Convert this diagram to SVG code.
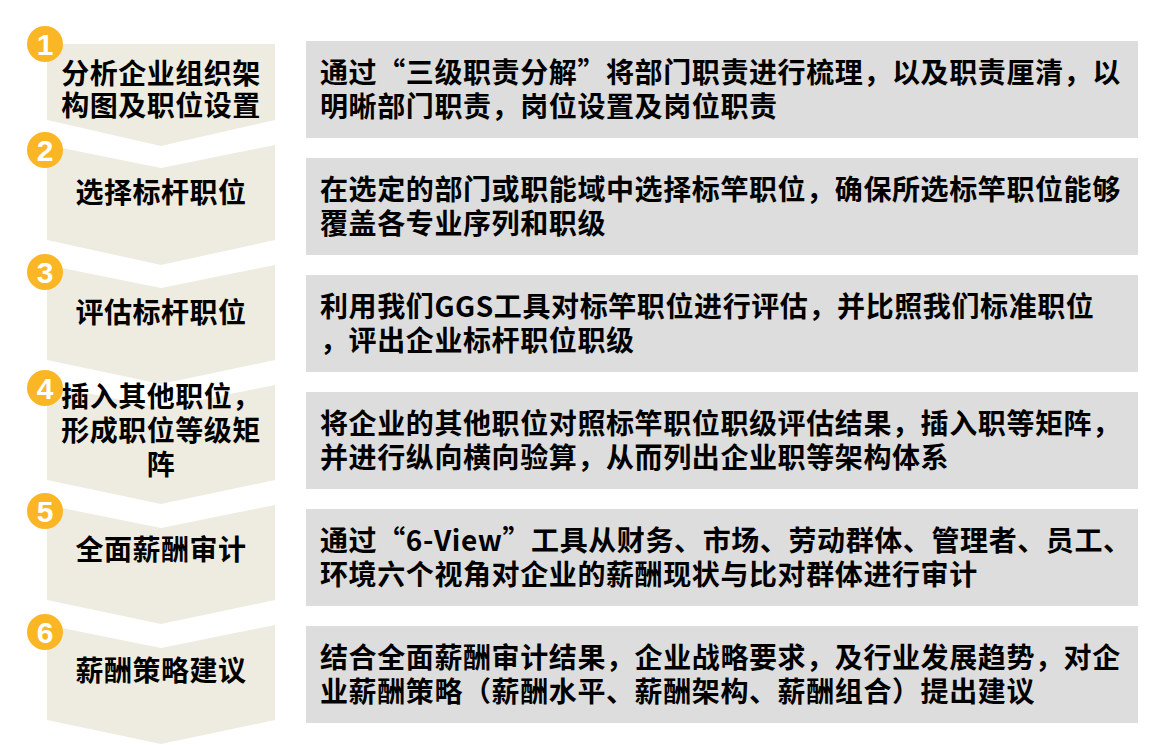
<svg xmlns="http://www.w3.org/2000/svg" width="1159" height="745" viewBox="0 0 1159 745">
<style>
.chev{fill:#EEECE1;}
.box{fill:#DDDDDD;}
.circ{fill:#FBB626;}
.num{font-family:"Liberation Sans",Arial,sans-serif;font-weight:bold;font-size:30px;fill:#FFFFFF;text-anchor:middle;}
.lt{font-family:"Noto Sans CJK SC","Noto Sans",sans-serif;font-weight:bold;font-size:28px;fill:#000000;text-anchor:middle;letter-spacing:0.5px;}
.rt{font-family:"Noto Sans CJK SC","Noto Sans",sans-serif;font-weight:bold;font-size:28px;fill:#000000;letter-spacing:0.6px;}
</style>
<rect width="1159" height="745" fill="#FFFFFF"/>
<g id="connectors"></g>
<g id="step1">
<polygon class="chev" points="47,44 275,44 275,120 161,146 47,120"/>
<text class="lt" x="161" y="84">分析企业组织架</text>
<text class="lt" x="161" y="116">构图及职位设置</text>
<circle class="circ" cx="45" cy="44" r="18"/>
<text class="num" x="45" y="55">1</text>
</g>
<g id="step2">
<polygon class="chev" points="47,145 161,168 275,145 275,240 161,265 47,240"/>
<text class="lt" x="161" y="203">选择标杆职位</text>
<circle class="circ" cx="45" cy="150" r="18"/>
<text class="num" x="45" y="161">2</text>
</g>
<g id="step3">
<polygon class="chev" points="47,265 161,288 275,265 275,360 161,384 47,360"/>
<text class="lt" x="161" y="323">评估标杆职位</text>
<circle class="circ" cx="45" cy="272" r="18"/>
<text class="num" x="45" y="283">3</text>
</g>
<g id="step4">
<polygon class="chev" points="47,385 161,408 275,385 275,480 161,504 47,480"/>
<text class="lt" x="161" y="407">插入其他职位，</text>
<text class="lt" x="161" y="441">形成职位等级矩</text>
<text class="lt" x="161" y="475">阵</text>
<circle class="circ" cx="45" cy="388" r="18"/>
<text class="num" x="45" y="399">4</text>
</g>
<g id="step5">
<polygon class="chev" points="47,505 161,528 275,505 275,600 161,624 47,600"/>
<text class="lt" x="161" y="560">全面薪酬审计</text>
<circle class="circ" cx="45" cy="511" r="18"/>
<text class="num" x="45" y="522">5</text>
</g>
<g id="step6">
<polygon class="chev" points="47,625 161,648 275,625 275,720 161,744 47,720"/>
<text class="lt" x="161" y="681">薪酬策略建议</text>
<circle class="circ" cx="45" cy="632" r="18"/>
<text class="num" x="45" y="643">6</text>
</g>
<g id="desc1">
<rect class="box" x="306" y="41" width="832" height="97"/>
<text class="rt" x="320" y="83">通过“三级职责分解”将部门职责进行梳理，以及职责厘清，以</text>
<text class="rt" x="320" y="117">明晰部门职责，岗位设置及岗位职责</text>
</g>
<g id="desc2">
<rect class="box" x="306" y="158" width="832" height="97"/>
<text class="rt" x="320" y="200">在选定的部门或职能域中选择标竿职位，确保所选标竿职位能够</text>
<text class="rt" x="320" y="234">覆盖各专业序列和职级</text>
</g>
<g id="desc3">
<rect class="box" x="306" y="275" width="832" height="97"/>
<text class="rt" x="320" y="317">利用我们GGS工具对标竿职位进行评估，并比照我们标准职位</text>
<text class="rt" x="320" y="351">，评出企业标杆职位职级</text>
</g>
<g id="desc4">
<rect class="box" x="306" y="392" width="832" height="97"/>
<text class="rt" x="320" y="434">将企业的其他职位对照标竿职位职级评估结果，插入职等矩阵，</text>
<text class="rt" x="320" y="468">并进行纵向横向验算，从而列出企业职等架构体系</text>
</g>
<g id="desc5">
<rect class="box" x="306" y="509" width="832" height="97"/>
<text class="rt" x="320" y="551">通过“6-View”工具从财务、市场、劳动群体、管理者、员工、</text>
<text class="rt" x="320" y="585">环境六个视角对企业的薪酬现状与比对群体进行审计</text>
</g>
<g id="desc6">
<rect class="box" x="306" y="626" width="832" height="97"/>
<text class="rt" x="320" y="668">结合全面薪酬审计结果，企业战略要求，及行业发展趋势，对企</text>
<text class="rt" x="320" y="702">业薪酬策略（薪酬水平、薪酬架构、薪酬组合）提出建议</text>
</g>
</svg>
